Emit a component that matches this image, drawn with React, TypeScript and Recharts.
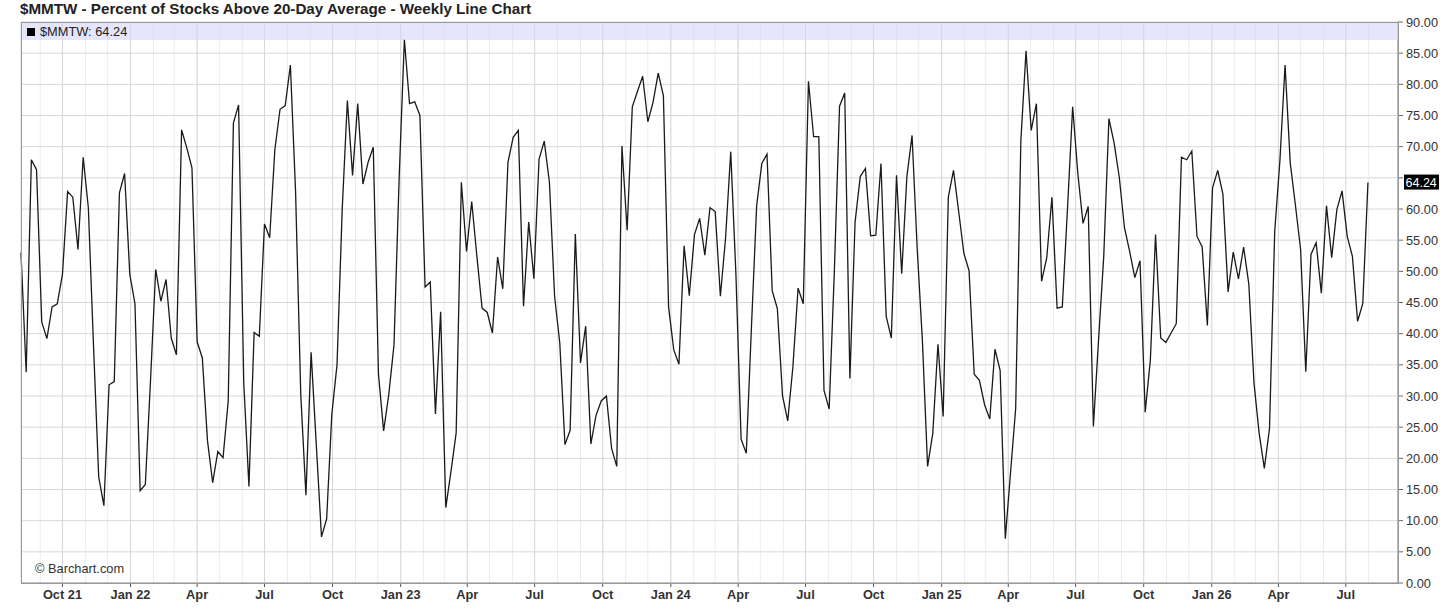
import React from "react";
import { LineChart, Line, XAxis, YAxis, CartesianGrid, ReferenceLine } from "recharts";

const TITLE = "$MMTW - Percent of Stocks Above 20-Day Average - Weekly Line Chart";
const SYMBOL = "$MMTW";
const LAST_VALUE = 64.24;

// weekly closes, first week ending Fri Aug 6 2021
const FIRST_WEEK = Date.UTC(2021, 7, 6);
const WEEK_MS = 7 * 24 * 3600 * 1000;

const pct2021 = [
  53.0, 33.8, 67.9, 66.3, 41.9, 39.2, 44.3, 44.8, 49.5, 62.8, 61.9, 53.5, 68.3, 60.2, 38.0, 17.0,
  12.4, 31.8, 32.3, 62.6, 65.7, 49.5,
];
const pct2022 = [
  44.8, 14.8, 15.8, 32.5, 50.3, 45.2, 48.7, 39.3, 36.6, 72.7, 69.8, 66.6, 38.7, 36.1, 22.8, 16.1,
  21.1, 20.1, 29.2, 73.8, 76.7, 32.1, 15.5, 40.2, 39.6, 57.6, 55.4, 69.5, 76.0, 76.6, 83.1, 62.8,
  30.3, 14.1, 37.0, 22.2, 7.4, 10.3, 27.1, 35.0, 59.9, 77.4, 65.4, 76.9, 64.0, 67.5, 69.9, 33.5,
  24.4, 30.3, 38.2, 65.1,
];
const pct2023 = [
  87.2, 76.9, 77.2, 75.0, 47.5, 48.3, 27.1, 43.5, 12.1, 17.9, 24.1, 64.3, 53.2, 61.2, 52.4, 44.1,
  43.4, 40.1, 52.3, 47.2, 67.5, 71.5, 72.6, 44.4, 57.9, 48.8, 68.0, 70.9, 64.3, 46.0, 38.5, 22.2,
  24.5, 56.0, 35.3, 41.2, 22.3, 26.9, 29.2, 30.0, 21.6, 18.7, 70.1, 56.6, 76.4, 78.9, 81.3, 74.0,
  77.1, 81.8, 78.2, 44.3,
];
const pct2024 = [
  37.4, 35.1, 54.1, 46.1, 55.9, 58.5, 52.6, 60.2, 59.6, 46.0, 55.3, 69.2, 49.5, 23.1, 20.8, 41.1,
  60.5, 67.3, 68.8, 46.9, 44.0, 30.0, 26.0, 34.7, 47.3, 44.8, 80.5, 71.6, 71.6, 30.9, 27.9, 50.0,
  76.5, 78.6, 32.8, 57.9, 65.2, 66.5, 55.7, 55.8, 67.3, 42.8, 39.3, 65.4, 49.6, 65.2, 71.8, 53.5,
  38.8, 18.7, 24.0, 38.3,
];
const pct2025 = [
  26.7, 61.9, 66.2, 59.6, 52.9, 50.1, 33.5, 32.5, 28.6, 26.3, 37.5, 34.1, 7.1, 17.6, 28.0, 70.9,
  85.4, 72.6, 76.9, 48.4, 52.2, 61.9, 44.1, 44.3, 60.0, 76.4, 65.7, 57.7, 60.4, 25.1, 39.0, 52.4,
  74.5, 70.6, 65.1, 57.0, 53.2, 49.0, 51.7, 27.4, 35.8, 55.9, 39.3, 38.6, 40.1, 41.6, 68.3, 67.9,
  69.3, 55.6, 53.9, 41.3,
];
const pct2026 = [
  63.4, 66.2, 62.4, 46.7, 53.1, 48.8, 53.9, 48.0, 32.1, 24.0, 18.4, 24.8, 56.4, 67.7, 83.1, 67.4,
  60.6, 53.5, 33.9, 52.7, 54.6, 46.5, 60.5, 52.2, 59.9, 62.9, 55.6, 52.4, 42.0, 44.8, 64.24,
];

const quarterDates = [
  "2021-10-01", "2022-01-01", "2022-04-01", "2022-07-01", "2022-10-01", "2023-01-01", "2023-04-01",
  "2023-07-01", "2023-10-01", "2024-01-01", "2024-04-01", "2024-07-01", "2024-10-01", "2025-01-01",
  "2025-04-01", "2025-07-01", "2025-10-01", "2026-01-01", "2026-04-01", "2026-07-01",
];
const quarterLabels = [
  "Oct 21", "Jan 22", "Apr", "Jul", "Oct", "Jan 23", "Apr", "Jul", "Oct", "Jan 24", "Apr", "Jul",
  "Oct", "Jan 25", "Apr", "Jul", "Oct", "Jan 26", "Apr", "Jul",
];
const yTicks = [0, 5, 10, 15, 20, 25, 30, 35, 40, 45, 50, 55, 60, 65, 70, 75, 80, 85, 90];

const values = [...pct2021, ...pct2022, ...pct2023, ...pct2024, ...pct2025, ...pct2026];
const data = values.map((v, i) => ({ t: FIRST_WEEK + i * WEEK_MS, v }));

const quarterTicks = quarterDates.map((d) => Date.parse(d + "T00:00:00Z"));
const labelFor: Record<number, string> = {};
quarterTicks.forEach((t, i) => (labelFor[t] = quarterLabels[i]));

// monthly minor grid lines
const monthTicks: number[] = [];
for (let y = 2021; y <= 2026; y++) {
  for (let m = 0; m < 12; m++) {
    const t = Date.UTC(y, m, 1);
    if (t > FIRST_WEEK && t <= Date.UTC(2026, 7, 1)) monthTicks.push(t);
  }
}

const X_MAX = FIRST_WEEK + 265.8 * WEEK_MS;
const FONT = "'Liberation Sans', Arial, sans-serif";

const LastValueLabel = (props: any) => {
  const vb = props.viewBox || {};
  const x = vb.x + vb.width + 6;
  const y = vb.y;
  return (
    <g>
      <rect x={x} y={y - 8} width={35} height={15} fill="#000" />
      <text x={x + 1.5} y={y + 4.5} fill="#fff" fontSize={12.5} fontFamily={FONT}>
        {LAST_VALUE.toFixed(2)}
      </text>
    </g>
  );
};

export default function App() {
  return (
    <div
      style={{
        position: "absolute",
        left: 0,
        top: 0,
        width: 1456,
        height: 612,
        background: "#fff",
        fontFamily: FONT,
        color: "#222",
      }}
    >
      <div style={{ position: "absolute", left: 20, top: 0, fontSize: 15.2, fontWeight: "bold", lineHeight: "18px" }}>
        {TITLE}
      </div>
      <LineChart width={1456} height={612} data={data} margin={{ top: 22, right: 0, bottom: 0, left: 21 }}>
        <CartesianGrid horizontal={false} verticalValues={monthTicks} stroke="#ececec" />
        <CartesianGrid stroke="#d8d8d8" />
        <XAxis
          dataKey="t"
          type="number"
          domain={[FIRST_WEEK, X_MAX]}
          ticks={quarterTicks}
          interval={0}
          tickFormatter={(t) => labelFor[t] ?? ""}
          height={29}
          tickSize={4}
          tickMargin={3}
          axisLine={{ stroke: "#999" }}
          tickLine={{ stroke: "#555" }}
          tick={{ fill: "#333", fontSize: 12.8, fontWeight: "bold", fontFamily: FONT }}
        />
        <YAxis
          orientation="right"
          domain={[0, 90]}
          ticks={yTicks}
          interval={0}
          width={58}
          tickSize={5}
          tickMargin={3}
          tickFormatter={(v) => (v === 65 ? "" : Number(v).toFixed(2))}
          axisLine={{ stroke: "#888" }}
          tickLine={{ stroke: "#666" }}
          tick={{ fill: "#333", fontSize: 12.8, fontFamily: FONT, textAnchor: "start" }}
        />
        <ReferenceLine y={LAST_VALUE} stroke="none" label={<LastValueLabel />} />
        <Line
          type="linear"
          dataKey="v"
          stroke="#1a1a1a"
          strokeWidth={1.3}
          dot={false}
          isAnimationActive={false}
        />
      </LineChart>
      <div
        style={{
          position: "absolute",
          left: 21,
          top: 22,
          width: 1378,
          height: 562,
          boxSizing: "border-box",
          border: "1px solid #999",
          pointerEvents: "none",
        }}
      />
      <div
        style={{
          position: "absolute",
          left: 22,
          top: 23,
          width: 1376,
          height: 17,
          background: "rgba(212,212,250,0.6)",
          pointerEvents: "none",
        }}
      />
      <div style={{ position: "absolute", left: 27, top: 24, fontSize: 12.8, lineHeight: "15px", display: "flex", alignItems: "center" }}>
        <span style={{ display: "inline-block", width: 8, height: 8, background: "#000", marginRight: 5 }} />
        {SYMBOL}: {LAST_VALUE.toFixed(2)}
      </div>
      <div style={{ position: "absolute", left: 35, top: 561, fontSize: 12.8, lineHeight: "15px", color: "#333" }}>
        © Barchart.com
      </div>
    </div>
  );
}
